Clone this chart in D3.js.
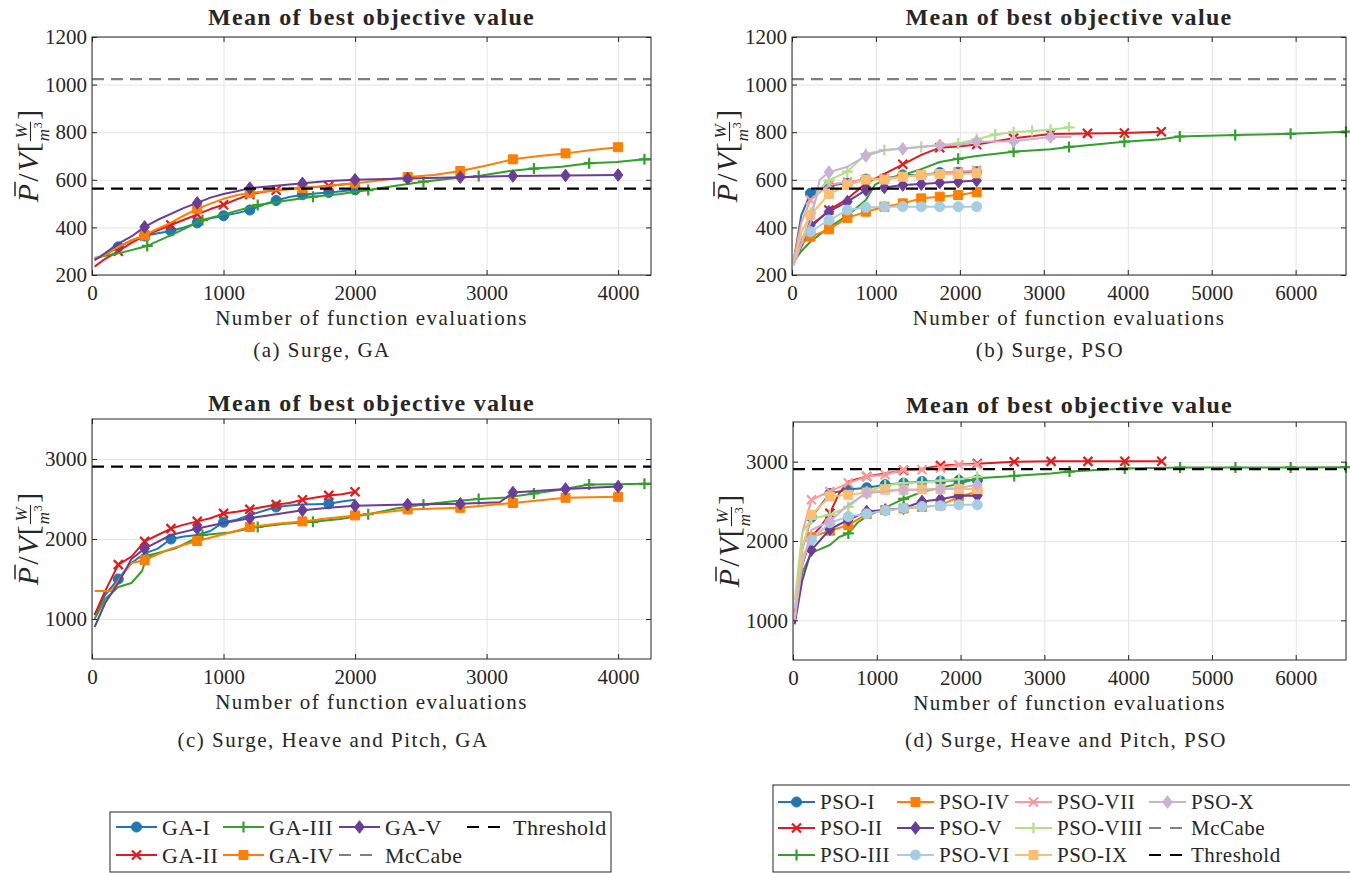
<!DOCTYPE html>
<html>
<head>
<meta charset="utf-8">
<script src="https://cdn.jsdelivr.net/npm/d3@7"></script>
<style>
  body { margin: 0; background: #fff; }
  svg text { font-family: "Liberation Serif", "Times New Roman", serif; fill: #262626; }
</style>
</head>
<body>
<svg id="fig" width="1350" height="873"></svg>
<script>
// ---------- text ----------
const panelTitle = "Mean of best objective value";
const xAxisLabel = "Number of function evaluations";
const captions = ["(a) Surge, GA", "(b) Surge, PSO",
  "(c) Surge, Heave and Pitch, GA", "(d) Surge, Heave and Pitch, PSO"];

// ---------- series ----------
const gaNames = ["GA-I", "GA-II", "GA-III", "GA-IV", "GA-V"];
const psoNames = ["PSO-I", "PSO-II", "PSO-III", "PSO-IV", "PSO-V",
  "PSO-VI", "PSO-VII", "PSO-VIII", "PSO-IX", "PSO-X"];
const gaColors = ["#1f78b4", "#e31a1c", "#33a02c", "#ff7f00", "#6a3d9a"];
const psoColors = ["#1f78b4", "#e31a1c", "#33a02c", "#ff7f00", "#6a3d9a",
  "#a6cee3", "#fb9a99", "#b2df8a", "#fdbf6f", "#cab2d6"];
const gaShapes = ["circle", "x", "plus", "square", "diamond"];
const psoShapes = gaShapes.concat(gaShapes);
// a marker every N evaluations (offset from 0)
const gaSurgeMarkEvery = [200, 200, 420, 400, 400];
const gaHpMarkEvery = [400, 200, 420, 400, 400];
const gaHpMarkOffset = [200, 0, 0, 0, 0];
const psoMarkEvery = [220, 440, 660, 220, 220, 220, 220, 220, 220, 440];

// reference levels
const mccabeSurge = 1023;
const thresholdSurge = 563;
const thresholdHP = 2905;

// ---------- (a) Surge, GA ----------
const gaStep200 = [20, 100, 200, 300, 400, 500, 600, 700, 800, 900, 1000, 1100, 1200, 1300, 1400, 1500, 1600, 1700, 1800, 1900, 2000];
const gaSurgeX = [
  gaStep200,
  gaStep200,
  [20, 210, 420, 630, 840, 1050, 1260, 1470, 1680, 1890, 2100, 2310, 2520, 2730, 2940, 3150, 3360, 3570, 3780, 3990, 4200, 4250],
  [20, 100, 200, 300, 400, 500, 600, 700, 800, 900, 1000, 1100, 1200, 1400, 1600, 1800, 2000, 2200, 2400, 2600, 2800, 3000, 3200, 3400, 3600, 3800, 4000],
  [20, 100, 200, 300, 400, 500, 600, 700, 800, 900, 1000, 1100, 1200, 1400, 1600, 1800, 2000, 2400, 2800, 3200, 3600, 4000]
];
const gaSurgeY = [
  [265, 285, 318, 345, 364, 375, 385, 400, 419, 438, 449, 460, 473, 495, 513, 528, 537, 542, 547, 552, 558],
  [235, 268, 300, 335, 365, 388, 410, 432, 455, 477, 495, 518, 538, 550, 556, 562, 566, 570, 574, 580, 585],
  [272, 292, 322, 375, 431, 462, 494, 512, 529, 540, 557, 575, 592, 605, 616, 635, 647, 655, 670, 675, 686, 686],
  [268, 285, 318, 345, 367, 395, 420, 450, 478, 500, 520, 535, 545, 555, 565, 575, 585, 598, 612, 620, 637, 660, 686, 700, 711, 725, 737],
  [262, 292, 332, 362, 402, 432, 457, 482, 503, 525, 540, 552, 565, 575, 585, 595, 600, 605, 611, 616, 618, 620]
];

// ---------- (c) Surge, Heave and Pitch, GA ----------
const gaHpX = [
  gaStep200,
  gaStep200,
  [20, 100, 200, 300, 380, 420, 630, 840, 1050, 1260, 1470, 1680, 1890, 2100, 2310, 2520, 2730, 2940, 3150, 3360, 3570, 3780, 3990, 4200, 4250],
  [20, 150, 200, 300, 400, 600, 800, 1000, 1200, 1400, 1600, 1800, 2000, 2200, 2400, 2800, 3200, 3600, 4000],
  [20, 100, 200, 300, 400, 600, 800, 1000, 1200, 1400, 1600, 1800, 2000, 2400, 2800, 3100, 3200, 3600, 4000]
];
const gaHpY = [
  [1050, 1300, 1500, 1700, 1820, 1880, 2000, 2030, 2050, 2100, 2210, 2240, 2300, 2350, 2400, 2420, 2430, 2435, 2440, 2470, 2490],
  [1050, 1350, 1680, 1780, 1970, 2050, 2130, 2180, 2220, 2260, 2320, 2340, 2370, 2400, 2430, 2450, 2490, 2520, 2545, 2560, 2590],
  [1000, 1250, 1400, 1450, 1600, 1790, 1880, 2050, 2080, 2150, 2190, 2215, 2250, 2310, 2380, 2430, 2470, 2500, 2520, 2570, 2620, 2680, 2685, 2690, 2690],
  [1350, 1350, 1480, 1700, 1735, 1880, 1975, 2060, 2150, 2190, 2220, 2260, 2295, 2330, 2370, 2390, 2450, 2515, 2527],
  [900, 1200, 1450, 1750, 1880, 2050, 2130, 2200, 2260, 2310, 2360, 2390, 2415, 2430, 2440, 2460, 2580, 2625, 2655]
];

// ---------- (b) Surge, PSO ----------
const psoShort = [20, 110, 220, 440, 660, 880, 1100, 1320, 1540, 1760, 1980, 2200];
const psoLongII = [20, 220, 440, 660, 880, 1100, 1320, 1540, 1760, 1980, 2200, 2640, 3080, 3520, 3960, 4400];
const psoLongIII = [20, 110, 220, 440, 660, 880, 990, 1100, 1320, 1540, 1760, 1980, 2200, 2640, 3080, 3300, 3960, 4400, 4620, 5280, 5940, 6600];
const psoSurgeX = [
  psoShort,
  psoLongII,
  psoLongIII,
  psoShort,
  psoShort,
  psoShort,
  psoShort,
  [20, 110, 220, 330, 440, 660, 880, 1100, 1320, 1540, 1760, 1980, 2200, 2420, 2640, 2860, 3080, 3300],
  psoShort,
  [20, 110, 220, 330, 440, 660, 880, 1100, 1320, 1540, 1760, 1980, 2200, 2640, 3080, 3330]
];
const psoSurgeY = [
  [260, 450, 543, 575, 586, 603, 605, 620, 620, 630, 632, 634],
  [250, 400, 473, 520, 585, 625, 665, 705, 735, 740, 748, 775, 792, 795, 797, 802],
  [255, 300, 340, 400, 450, 515, 580, 600, 620, 645, 675, 688, 700, 718, 728, 738, 760, 770, 782, 788, 793, 802],
  [250, 330, 361, 392, 440, 466, 487, 501, 522, 529, 536, 548],
  [250, 350, 410, 466, 508, 557, 568, 578, 582, 588, 592, 597],
  [270, 360, 382, 431, 473, 484, 487, 487, 487, 487, 487, 487],
  [260, 420, 515, 578, 592, 601, 606, 613, 620, 627, 634, 640],
  [250, 330, 460, 560, 598, 634, 708, 725, 732, 738, 746, 753, 770, 790, 800, 805, 810, 820],
  [245, 380, 452, 540, 578, 601, 601, 613, 620, 624, 624, 627],
  [240, 330, 420, 600, 632, 655, 700, 725, 730, 739, 745, 746, 760, 762, 780, 780]
];

// ---------- (d) Surge, Heave and Pitch, PSO ----------
const psoHpX = [
  psoShort,
  [20, 110, 220, 330, 440, 550, 660, 880, 1100, 1320, 1540, 1760, 1980, 2200, 2640, 3080, 3520, 3960, 4400],
  [20, 110, 220, 330, 440, 550, 660, 770, 880, 1100, 1320, 1540, 1760, 1980, 2200, 2640, 3080, 3300, 3960, 4620, 5280, 5940, 6600],
  psoShort, psoShort, psoShort, psoShort, psoShort, psoShort, psoShort
];
const psoHpY = [
  [1100, 1900, 2300, 2600, 2650, 2670, 2710, 2730, 2750, 2755, 2765, 2770],
  [1000, 1700, 2055, 2180, 2350, 2600, 2750, 2814, 2850, 2890, 2910, 2950, 2965, 2975, 3000, 3004, 3004, 3005, 3005],
  [1000, 1600, 1850, 1900, 1950, 2050, 2095, 2230, 2310, 2420, 2530, 2620, 2670, 2720, 2790, 2820, 2850, 2875, 2915, 2925, 2925, 2928, 2930],
  [1050, 1700, 2050, 2130, 2200, 2340, 2390, 2410, 2430, 2450, 2560, 2620],
  [950, 1500, 1886, 2148, 2266, 2371, 2392, 2413, 2498, 2527, 2570, 2570],
  [1150, 1800, 2013, 2230, 2308, 2342, 2384, 2413, 2434, 2443, 2456, 2456],
  [1000, 2100, 2520, 2625, 2730, 2814, 2835, 2899, 2899, 2920, 2962, 2962],
  [1250, 2100, 2280, 2330, 2430, 2620, 2700, 2730, 2740, 2760, 2780, 2810],
  [1000, 1900, 2329, 2561, 2582, 2611, 2646, 2646, 2650, 2654, 2654, 2654],
  [1000, 1700, 2139, 2250, 2456, 2604, 2625, 2646, 2646, 2654, 2667, 2709]
];

// ---------- ticks ----------
const gaXTicks = [0, 1000, 2000, 3000, 4000];
const psoXTicks = [0, 1000, 2000, 3000, 4000, 5000, 6000];
const surgeYTicks = [200, 400, 600, 800, 1000, 1200];
const hpYTicks = [1000, 2000, 3000];

const svg = d3.select("#fig");
const AX = "#262626";
const GRID = "#e4e4e4";

function markerPath(shape) {
  switch (shape) {
    case "circle": return d3.symbol(d3.symbolCircle, 80)();
    case "square": return "M-4.5,-4.5H4.5V4.5H-4.5Z";
    case "diamond": return "M0,-6.3L4.8,0L0,6.3L-4.8,0Z";
    case "x": return "M-4.5,-4.5L4.5,4.5M-4.5,4.5L4.5,-4.5";
    case "plus": return "M-5.5,0H5.5M0,-5.5V5.5";
  }
}
function isStroked(shape) { return shape === "x" || shape === "plus"; }

function drawMarker(sel, shape, color) {
  sel.append("path")
    .attr("d", markerPath(shape))
    .attr("fill", isStroked(shape) ? "none" : color)
    .attr("stroke", color)
    .attr("stroke-width", isStroked(shape) ? 2.2 : 1);
}

function drawYLabel(cx, cy) {
  const g = svg.append("g").attr("transform", `translate(${cx},${cy}) rotate(-90)`);
  const inner = g.append("g");
  const fs = 30, base = 9;
  let pos = 0;
  function piece(str, italic, size, x, y, anchor) {
    const t = inner.append("text").attr("x", x).attr("y", y)
      .style("font-size", size + "px")
      .style("font-style", italic ? "italic" : "normal")
      .attr("text-anchor", anchor || "start")
      .text(str);
    return t.node().getComputedTextLength();
  }
  let w = piece("P", true, fs, pos, base);
  inner.append("line").attr("x1", pos + 6).attr("x2", pos + w + 2)
    .attr("y1", base - 23).attr("y2", base - 23)
    .attr("stroke", AX).attr("stroke-width", 1.5);
  pos += w + 2;
  w = piece("/", false, fs, pos, base); pos += w + 2;
  w = piece("V", true, fs, pos, base); pos += w + 1;
  w = piece("[", false, fs, pos, base); pos += w + 1;
  // fraction W / m^3
  const wm = piece("m", true, 17, pos, base + 11);
  const w3 = piece("3", false, 12, pos + wm + 0.5, base + 4);
  const fw = Math.max(wm + w3 + 1, 16);
  piece("W", true, 17, pos + fw / 2, base - 11, "middle");
  inner.append("line").attr("x1", pos).attr("x2", pos + fw)
    .attr("y1", base - 7.5).attr("y2", base - 7.5)
    .attr("stroke", AX).attr("stroke-width", 1.1);
  pos += fw + 2;
  w = piece("]", false, fs, pos, base); pos += w;
  inner.attr("transform", `translate(${-pos / 2},0)`);
}

function drawPanel(p, xs, ys, colors, shapes, every, offset, refs) {
  const x = d3.scaleLinear().domain([0, p.xMax]).range([p.left, p.right]);
  const y = d3.scaleLinear().domain(p.yDom).range([p.bottom, p.top]);
  const g = svg.append("g");
  const h = p.bottom - p.top, w = p.right - p.left;

  // grid
  g.append("g").attr("transform", `translate(0,${p.bottom})`)
    .call(d3.axisBottom(x).tickValues(p.xTicks).tickSize(-h).tickFormat(""))
    .call(s => s.select(".domain").remove())
    .selectAll("line").attr("stroke", GRID);
  g.append("g").attr("transform", `translate(${p.left},0)`)
    .call(d3.axisLeft(y).tickValues(p.yTicks).tickSize(-w).tickFormat(""))
    .call(s => s.select(".domain").remove())
    .selectAll("line").attr("stroke", GRID);

  const clipId = "clip" + p.id;
  svg.append("clipPath").attr("id", clipId).append("rect")
    .attr("x", p.left).attr("y", p.top).attr("width", w).attr("height", h);

  // series
  const line = d3.line().x(d => x(d[0])).y(d => y(d[1]));
  xs.forEach((xv, i) => {
    const pts = xv.map((v, j) => [v, ys[i][j]]);
    g.append("path").datum(pts)
      .attr("clip-path", `url(#${clipId})`)
      .attr("fill", "none").attr("stroke", colors[i])
      .attr("stroke-width", 2).attr("stroke-linejoin", "round")
      .attr("d", line);
    const off = offset ? offset[i] : 0;
    const marks = pts.filter(d => d[0] >= off && d[0] > 0 && (d[0] - off) % every[i] === 0);
    g.append("g").selectAll("g").data(marks).join("g")
      .attr("transform", d => `translate(${x(d[0])},${y(d[1])})`)
      .each(function () { drawMarker(d3.select(this), shapes[i], colors[i]); });
  });

  // reference lines
  refs.forEach(r => {
    g.append("line")
      .attr("x1", p.left).attr("x2", p.right)
      .attr("y1", y(r.v)).attr("y2", y(r.v))
      .attr("stroke", r.color).attr("stroke-width", 2.2)
      .attr("stroke-dasharray", "12,7");
  });

  // box + inward ticks
  const fmt = d3.format("d");
  const bx = g.append("g").attr("transform", `translate(0,${p.bottom})`)
    .call(d3.axisBottom(x).tickValues(p.xTicks).tickSizeInner(-5).tickSizeOuter(0).tickPadding(10).tickFormat(fmt));
  bx.selectAll("text").style("font-size", "21px").attr("fill", AX);
  g.append("g").attr("transform", `translate(0,${p.top})`)
    .call(d3.axisTop(x).tickValues(p.xTicks).tickSizeInner(-5).tickSizeOuter(0).tickFormat(""));
  const ly = g.append("g").attr("transform", `translate(${p.left},0)`)
    .call(d3.axisLeft(y).tickValues(p.yTicks).tickSizeInner(-5).tickSizeOuter(0).tickPadding(5).tickFormat(fmt));
  ly.selectAll("text").style("font-size", "21px").attr("fill", AX);
  g.append("g").attr("transform", `translate(${p.right},0)`)
    .call(d3.axisRight(y).tickValues(p.yTicks).tickSizeInner(-5).tickSizeOuter(0).tickFormat(""));
  g.selectAll(".domain").remove();
  g.selectAll(".tick line").filter(function () { return d3.select(this).attr("stroke") !== GRID; })
    .attr("stroke", AX);
  g.append("rect").attr("x", p.left).attr("y", p.top).attr("width", w).attr("height", h)
    .attr("fill", "none").attr("stroke", AX).attr("stroke-width", 1);

  // labels
  svg.append("text").attr("x", (p.left + p.right) / 2).attr("y", p.titleY)
    .attr("text-anchor", "middle").style("font-size", "24px").style("font-weight", "bold")
    .style("letter-spacing", "1.3px").attr("fill", "#000").text(panelTitle);
  svg.append("text").attr("x", (p.left + p.right) / 2).attr("y", p.bottom + 50)
    .attr("text-anchor", "middle").style("font-size", "21px")
    .style("letter-spacing", "1.5px").text(xAxisLabel);
  svg.append("text").attr("x", p.capX).attr("y", p.capY)
    .attr("text-anchor", "middle").style("font-size", "21px")
    .style("letter-spacing", "1.5px").text(p.caption);
  drawYLabel(p.ylx, (p.top + p.bottom) / 2);
}

const panels = [
  { id: "a", left: 92, right: 651, top: 37, bottom: 275, xMax: 4250, yDom: [200, 1200],
    xTicks: gaXTicks, yTicks: surgeYTicks, titleY: 25, capX: 322, capY: 357, caption: captions[0], ylx: 29 },
  { id: "b", left: 792, right: 1346, top: 37, bottom: 275, xMax: 6600, yDom: [200, 1200],
    xTicks: psoXTicks, yTicks: surgeYTicks, titleY: 25, capX: 1050, capY: 357, caption: captions[1], ylx: 728 },
  { id: "c", left: 92, right: 651, top: 419, bottom: 659, xMax: 4250, yDom: [500, 3500],
    xTicks: gaXTicks, yTicks: hpYTicks, titleY: 411, capX: 333, capY: 747, caption: captions[2], ylx: 29 },
  { id: "d", left: 793, right: 1346, top: 422, bottom: 660, xMax: 6600, yDom: [500, 3500],
    xTicks: psoXTicks, yTicks: hpYTicks, titleY: 413, capX: 1066, capY: 747, caption: captions[3], ylx: 730 }
];

const surgeRefs = [{ v: mccabeSurge, color: "#808080" }, { v: thresholdSurge, color: "#000" }];
const hpRefs = [{ v: thresholdHP, color: "#000" }];

drawPanel(panels[0], gaSurgeX, gaSurgeY, gaColors, gaShapes, gaSurgeMarkEvery, null, surgeRefs);
drawPanel(panels[1], psoSurgeX, psoSurgeY, psoColors, psoShapes, psoMarkEvery, null, surgeRefs);
drawPanel(panels[2], gaHpX, gaHpY, gaColors, gaShapes, gaHpMarkEvery, gaHpMarkOffset, hpRefs);
drawPanel(panels[3], psoHpX, psoHpY, psoColors, psoShapes, psoMarkEvery, null, hpRefs);

// ---------- legends ----------
function drawLegend(box, names, colors, shapes, rows, colX, rowY, lineLen, textOff, fs) {
  const g = svg.append("g");
  g.append("rect").attr("x", box.x).attr("y", box.y).attr("width", box.w).attr("height", box.h)
    .attr("fill", "#fff").attr("stroke", AX).attr("stroke-width", 1);
  const items = names.map((n, i) => ({ name: n, color: colors[i], shape: shapes[i] }))
    .concat([{ name: "McCabe", color: "#808080", dashed: true },
             { name: "Threshold", color: "#000", dashed: true }]);
  items.forEach((it, i) => {
    const x0 = colX[Math.floor(i / rows)], yc = rowY[i % rows];
    if (it.dashed) {
      g.append("line").attr("x1", x0).attr("x2", x0 + 33).attr("y1", yc).attr("y2", yc)
        .attr("stroke", it.color).attr("stroke-width", 2.2).attr("stroke-dasharray", "12,9");
    } else {
      g.append("line").attr("x1", x0).attr("x2", x0 + lineLen).attr("y1", yc).attr("y2", yc)
        .attr("stroke", it.color).attr("stroke-width", 2);
      drawMarker(g.append("g").attr("transform", `translate(${x0 + lineLen / 2},${yc})`), it.shape, it.color);
    }
    g.append("text").attr("x", x0 + textOff).attr("y", yc).attr("dy", "0.35em")
      .style("font-size", fs + "px").style("letter-spacing", "0.5px").text(it.name);
  });
}

drawLegend({ x: 110, y: 812, w: 501, h: 60 }, gaNames, gaColors, gaShapes, 2,
  [116, 223, 339, 467], [827, 855], 41, 46, 22);
drawLegend({ x: 773, y: 785, w: 590, h: 87 }, psoNames, psoColors, psoShapes, 3,
  [778, 897, 1015, 1149], [802, 828, 855], 37, 42, 21);
</script>
</body>
</html>
